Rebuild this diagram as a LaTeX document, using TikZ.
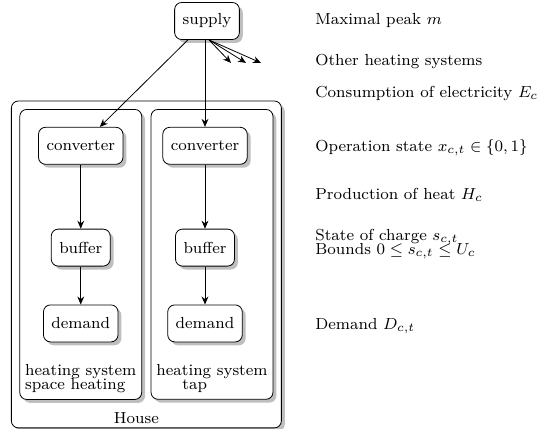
\documentclass[tikz,border=0pt]{standalone}
\usetikzlibrary{positioning,fit,shadows,arrows.meta}
\pgfdeclarelayer{background}
\pgfdeclarelayer{bg1}
\pgfsetlayers{background,bg1,main}

\tikzstyle{flow} = [-{Stealth[length=4pt,width=3.4pt]}]
\tikzset{
  rounded box/.style={
    shape=rectangle,
    draw,
    fill=white,
    rounded corners=3.5pt,
    drop shadow={shadow xshift=1.7pt, shadow yshift=-1.7pt},
  },
  unit/.style={
    rounded box,
    inner xsep=4pt,
    minimum height=18.5pt,
  },
  system/.style={rounded box, inner xsep=2.5pt, inner ysep=3pt},
  house/.style={rounded box, inner sep=4pt},
  syslabel/.style={align=left, inner sep=0pt},
  note/.style={anchor=west, align=left, inner sep=0pt},
}

\begin{document}
\begin{tikzpicture}[font=\footnotesize]
  \useasboundingbox (0,0) rectangle (269.5pt,-214pt);

  % supply on top
  \node[unit] (supply) at (103.5pt,-10.5pt) {supply};

  % tap water system
  \node[unit, below=43.5pt of supply, xshift=-1pt] (convR) {converter};
  \node[unit, below=32pt of convR] (bufR) {buffer};
  \node[unit, below=19pt of bufR] (demR) {demand};

  % space heating system
  \node[unit, left=19.5pt of convR] (convL) {converter};
  \node[unit, below=32pt of convL] (bufL) {buffer};
  \node[unit, below=19pt of bufL] (demL) {demand};

  \node[syslabel, below=11pt of demL] (labL) {heating system\\[-2.5pt]space heating};
  \node[syslabel, below=11pt of demR, xshift=3.5pt] (labR) {heating system\\[-2.5pt]\hspace*{13pt}tap};

  % extra room above the converters and below the systems
  \coordinate (topL) at ([yshift=5.75pt]convL.north);
  \coordinate (topR) at ([yshift=5.75pt]convR.north);

  \begin{pgfonlayer}{bg1}
    \node[system, fit=(convL) (labL) (topL)] (sysL) {};
    \node[system, fit=(convR) (labR) (topR)] (sysR) {};
  \end{pgfonlayer}

  \coordinate (bottom) at ([yshift=-10pt]sysL.south);
  \begin{pgfonlayer}{background}
    \node[house, fit=(sysL) (sysR) (bottom)] (house) {};
  \end{pgfonlayer}
  \node[above=2pt of house.south, xshift=-5pt, inner sep=0pt] (houselab) {House};

  % Paths
  \draw[flow] (supply) -- (convL);
  \draw[flow] (supply.south -| convR) -- (convR);
  \draw[flow] (convL) -- (bufL);
  \draw[flow] (bufL) -- (demL);
  \draw[flow] (convR) -- (bufR);
  \draw[flow] (bufR) -- (demR);

  % other heating systems
  \coordinate (fork) at ([xshift=1pt]supply.south);
  \foreach \dx [count=\i] in {11,18.5,26} {
    \coordinate (other\i) at ([xshift=\dx pt, yshift=-11.5pt]fork);
    \draw[flow] (fork) -- (other\i);
  }

  % notes
  \coordinate (notes) at (157.5pt,0);
  \node[note] (peak) at (notes |- supply) {Maximal peak $m$};
  \node[note] (others) at ([yshift=-31pt]notes) {Other heating systems};
  \node[note] (elec) at ([yshift=-46.5pt]notes) {Consumption of electricity $E_c$};
  \node[note] (opstate) at ([yshift=-1pt]notes |- convR) {Operation state $x_{c,t} \in \{0,1\}$};
  \node[note] (heat) at ([yshift=-97.5pt]notes) {Production of heat $H_c$};
  \node[note] (charge) at ([yshift=2pt]notes |- bufR) {State of charge $s_{c,t}$\\[-2.5pt]Bounds $0 \leq s_{c,t} \leq U_c$};
  \node[note] (dem) at ([yshift=-1.5pt]notes |- demR) {Demand $D_{c,t}$};
\end{tikzpicture}
\end{document}
